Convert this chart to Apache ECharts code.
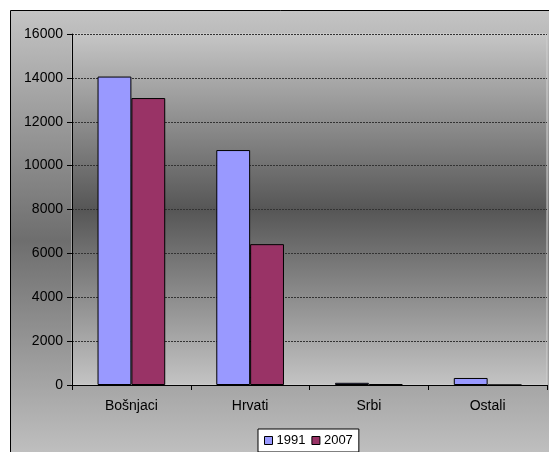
<!DOCTYPE html>
<html>
<head>
<meta charset="utf-8">
<script src="https://cdn.jsdelivr.net/npm/echarts@6/dist/echarts.min.js"></script>
<style>html,body{margin:0;padding:0;background:#fff;}#c{width:549px;height:452px;}</style>
</head>
<body>
<div id="c"></div>
<script>
var categories = ['Bošnjaci', 'Hrvati', 'Srbi', 'Ostali'];
var seriesNames = ['1991', '2007'];
var values1991 = [14060, 10710, 100, 320];
var values2007 = [13080, 6420, 40, 0];
var yTicks = [0, 2000, 4000, 6000, 8000, 10000, 12000, 14000, 16000];

var chart = echarts.init(document.getElementById('c'), null, {renderer: 'canvas'});
var font = '"Liberation Sans", Arial, sans-serif';
function vgrad(stops) {
  return new echarts.graphic.LinearGradient(0, 0, 0, 1, stops.map(function (s) { return {offset: s[0], color: s[1]}; }));
}
chart.setOption({
  animation: false,
  backgroundColor: '#ffffff',
  graphic: [
    {type: 'rect', z: -10, silent: true, shape: {x: 10.5, y: 10.5, width: 560, height: 460},
     style: {fill: vgrad([[0, '#c4c4c4'], [0.5, '#6e6e6e'], [1, '#c6c6c6']]), stroke: '#000', lineWidth: 1}},
    {type: 'rect', z: -9, silent: true, shape: {x: 72, y: 34, width: 475, height: 351},
     style: {fill: vgrad([[0, '#c6c6c6'], [0.5, '#565656'], [1, '#c4c4c4']]), stroke: '#d0d0d0', lineWidth: 1}}
  ],
  grid: {left: 72, top: 34, right: 2, bottom: 67, containLabel: false},
  legend: {
    left: 258, top: 429,
    data: seriesNames,
    icon: 'rect', itemWidth: 8, itemHeight: 8, itemGap: 6,
    backgroundColor: '#ffffff', borderColor: '#000', borderWidth: 1,
    padding: [5, 6, 5, 6],
    itemStyle: {borderColor: '#000', borderWidth: 1},
    textStyle: {fontFamily: font, fontSize: 13, color: '#000', padding: [0, 0, 0, -1]}
  },
  xAxis: {
    type: 'category', data: categories,
    axisLine: {lineStyle: {color: '#000', width: 1}},
    axisTick: {show: true, length: 5, lineStyle: {color: '#000'}},
    axisLabel: {fontFamily: font, fontSize: 14, color: '#000', margin: 14}
  },
  yAxis: {
    type: 'value', min: yTicks[0], max: yTicks[yTicks.length - 1], interval: 2000,
    axisLine: {show: true, lineStyle: {color: '#000', width: 1}},
    axisTick: {show: true, length: 5, lineStyle: {color: '#000'}},
    axisLabel: {fontFamily: font, fontSize: 14, color: '#000', margin: 9,
                formatter: function (v) { return String(v); }},
    splitLine: {show: true, lineStyle: {color: '#333333', type: [2, 1], width: 1}}
  },
  series: [
    {name: seriesNames[0], type: 'bar', data: values1991, barGap: '0%', barCategoryGap: '43%',
     itemStyle: {color: '#9999ff', borderColor: '#000', borderWidth: 1}},
    {name: seriesNames[1], type: 'bar', data: values2007,
     itemStyle: {color: '#993366', borderColor: '#000', borderWidth: 1}}
  ]
});
</script>
</body>
</html>
